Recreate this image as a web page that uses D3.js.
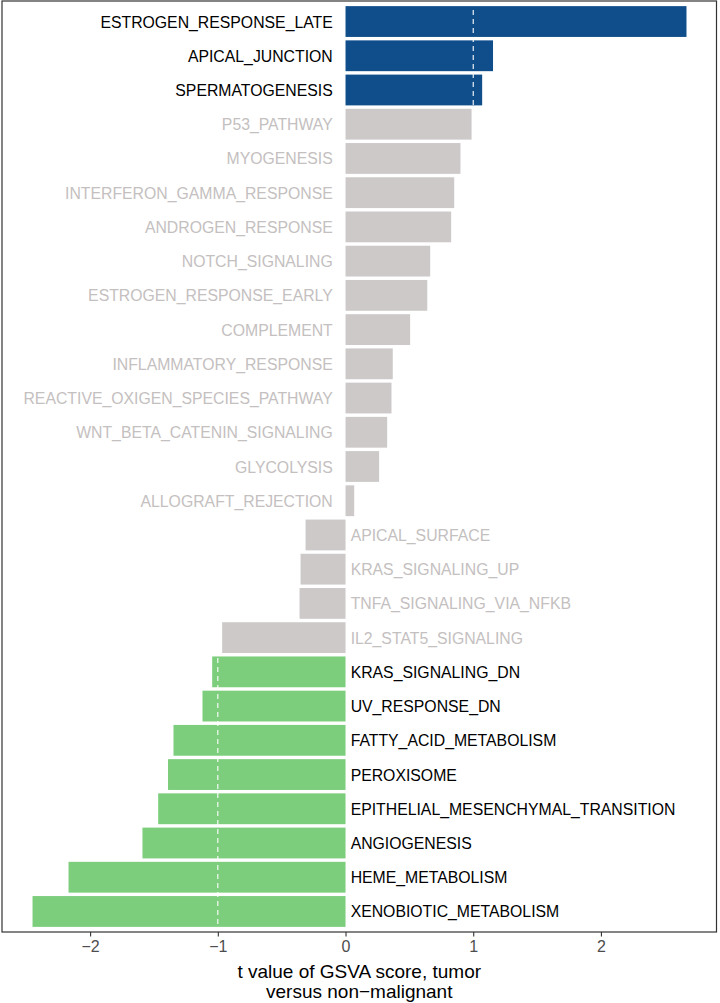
<!DOCTYPE html>
<html>
<head>
<meta charset="utf-8">
<script src="https://cdn.jsdelivr.net/npm/d3@7"></script>
<style>
  html, body { margin: 0; padding: 0; background: #fff; }
  svg { display: block; font-family: "Liberation Sans", Arial, Helvetica, sans-serif; }
</style>
</head>
<body>
<svg id="chart" width="720" height="1003"></svg>
<script>
// ---- data ----
const categories = [
  "ESTROGEN_RESPONSE_LATE", "APICAL_JUNCTION", "SPERMATOGENESIS", "P53_PATHWAY",
  "MYOGENESIS", "INTERFERON_GAMMA_RESPONSE", "ANDROGEN_RESPONSE", "NOTCH_SIGNALING",
  "ESTROGEN_RESPONSE_EARLY", "COMPLEMENT", "INFLAMMATORY_RESPONSE",
  "REACTIVE_OXIGEN_SPECIES_PATHWAY", "WNT_BETA_CATENIN_SIGNALING", "GLYCOLYSIS",
  "ALLOGRAFT_REJECTION", "APICAL_SURFACE", "KRAS_SIGNALING_UP", "TNFA_SIGNALING_VIA_NFKB",
  "IL2_STAT5_SIGNALING", "KRAS_SIGNALING_DN", "UV_RESPONSE_DN", "FATTY_ACID_METABOLISM",
  "PEROXISOME", "EPITHELIAL_MESENCHYMAL_TRANSITION", "ANGIOGENESIS", "HEME_METABOLISM",
  "XENOBIOTIC_METABOLISM"
];
const tValues = [
  2.67, 1.155, 1.07, 0.987,
  0.90, 0.851, 0.827, 0.663,
  0.64, 0.506, 0.37,
  0.36, 0.326, 0.263,
  0.068, -0.313, -0.352, -0.36,
  -0.966, -1.044, -1.12, -1.347,
  -1.39, -1.467, -1.59, -2.169,
  -2.451
];
const groups = [
  "up", "up", "up", "ns", "ns", "ns", "ns", "ns", "ns", "ns", "ns", "ns", "ns", "ns",
  "ns", "ns", "ns", "ns", "ns", "down", "down", "down", "down", "down", "down", "down", "down"
];
const xTicks = [-2, -1, 0, 1, 2];
const cutoffs = [-1, 1];
const xTitleLines = ["t value of GSVA score, tumor", "versus non\u2212malignant"];

// ---- styles ----
const fillColor = { up: "#104E8B", ns: "#CDC9C9", down: "#7CCD7C" };
const labelColor = { up: "#000000", ns: "#C4C0C0", down: "#000000" };

const data = categories.map((c, i) => ({ name: c, value: tValues[i], group: groups[i] }));

// ---- layout ----
const panel = { left: 2, right: 716.5, top: 1, bottom: 932 };
const svg = d3.select("#chart");

const x = d3.scaleLinear().domain([-2.69, 2.905]).range([panel.left, panel.right]);
const y = d3.scaleBand().domain(categories)
  .range([panel.top, panel.bottom]).paddingInner(0.1).paddingOuter(0.15);

// bars
svg.append("g").selectAll("rect").data(data).join("rect")
  .attr("x", d => x(Math.min(0, d.value)))
  .attr("width", d => Math.abs(x(d.value) - x(0)))
  .attr("y", d => y(d.name))
  .attr("height", y.bandwidth())
  .attr("fill", d => fillColor[d.group]);

// dashed cutoff lines (white)
svg.append("g").selectAll("line").data(cutoffs).join("line")
  .attr("x1", d => x(d)).attr("x2", d => x(d))
  .attr("y1", panel.top).attr("y2", panel.bottom)
  .attr("stroke", "#ffffff").attr("stroke-width", 1.1)
  .attr("stroke-dasharray", "5,4");

// labels
svg.append("g").selectAll("text").data(data).join("text")
  .attr("x", d => d.value >= 0 ? x(-0.1) : x(0.04))
  .attr("y", d => y(d.name) + y.bandwidth() / 2)
  .attr("dy", "0.38em")
  .attr("text-anchor", d => d.value >= 0 ? "end" : "start")
  .attr("font-size", 15.8)
  .attr("fill", d => labelColor[d.group])
  .text(d => d.name);

// panel border
svg.append("rect")
  .attr("x", panel.left).attr("y", panel.top)
  .attr("width", panel.right - panel.left).attr("height", panel.bottom - panel.top)
  .attr("fill", "none").attr("stroke", "#333333").attr("stroke-width", 1.2);

// x axis
const xAxis = d3.axisBottom(x).tickValues(xTicks).tickSize(4.5).tickPadding(4)
  .tickFormat(d => d < 0 ? "\u2212" + Math.abs(d) : String(d));
const gx = svg.append("g").attr("transform", `translate(0,${panel.bottom})`).call(xAxis);
gx.select(".domain").remove();
gx.selectAll(".tick line").attr("stroke", "#333333").attr("stroke-width", 1.1);
gx.selectAll(".tick text").attr("fill", "#4D4D4D").attr("font-size", 16)
  .attr("font-family", "'Liberation Sans', Arial, sans-serif");

// axis title
const cx = (panel.left + panel.right) / 2;
svg.append("g").selectAll("text").data(xTitleLines).join("text")
  .attr("x", cx)
  .attr("y", (d, i) => 978 + i * 20)
  .attr("text-anchor", "middle")
  .attr("font-size", 19)
  .attr("fill", "#000")
  .text(d => d);
</script>
</body>
</html>
